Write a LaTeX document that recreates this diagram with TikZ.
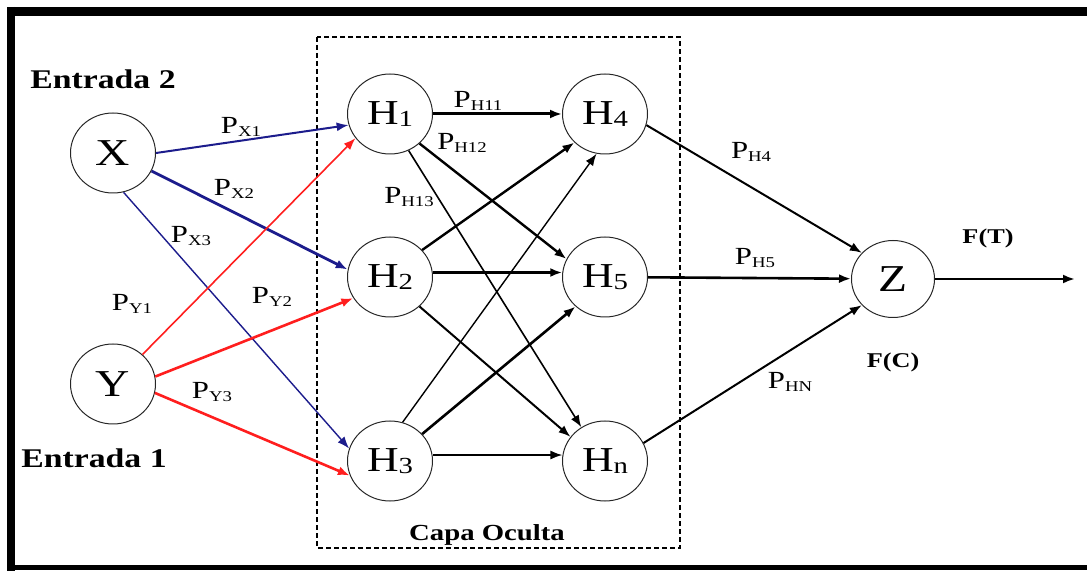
\documentclass[tikz,border=0pt]{standalone}
\usepackage{fontspec}
\setmainfont[FakeStretch=1.25]{Liberation Serif}
\usepackage{xcolor}
\usepackage{tikz}
\usetikzlibrary{arrows.meta,shapes.geometric}
\definecolor{EntradaBlue}{HTML}{1C1C8C}
\definecolor{EntradaRed}{HTML}{FF1E1E}
\newcommand{\Pw}[1]{P\raisebox{-.25ex}{\fontsize{7.5}{8}\selectfont #1}}
\newcommand{\Hsub}[1]{H\raisebox{-.1ex}{\fontsize{11.5}{12}\selectfont #1}}

\begin{document}
\begin{tikzpicture}[x=.5pt,y=-.5pt,>={Latex[length=6pt,width=4.5pt]},
  neuron/.style={draw=black!85,ellipse,line width=.5pt,minimum width=42.5pt,minimum height=40pt,inner sep=0pt,font=\fontsize{17.5}{20}\selectfont},
  peso/.style={inner sep=0pt,font=\fontsize{12.3}{14}\selectfont},
  rotulo/.style={inner sep=0pt,font=\bfseries\fontsize{13.5}{16}\selectfont},
  fino/.style={->,line width=.7pt},
  medio/.style={->,line width=1pt},
  grueso/.style={->,line width=1.4pt}]
\useasboundingbox (0,0) rectangle (1087,571);
% marco
\draw[line width=4.5pt] (7,11.5) -- (1087,11.5);
\draw[line width=4pt] (11,7) -- (11,571);
\draw[line width=2.5pt] (7,567.5) -- (1087,567.5);
\draw[dashed,line width=.9pt,dash pattern=on 2.5pt off 1.5pt] (317,37) rectangle (680,548);
\node[rotulo,font=\bfseries\fontsize{11.5}{14}\selectfont] (capa) at (487,535) {Capa Oculta};
% neuronas
\node[neuron,font=\fontsize{19}{22}\selectfont] (X) at (113,153) {X};
\node[neuron,font=\fontsize{19}{22}\selectfont] (Y) at (113,384) {Y};
\node[neuron] (H1) at (390,114) {\Hsub{1}};
\node[neuron] (H2) at (390,277) {\Hsub{2}};
\node[neuron] (H3) at (390,461) {\Hsub{3}};
\node[neuron] (H4) at (605,114) {\Hsub{4}};
\node[neuron] (H5) at (605,277) {\Hsub{5}};
\node[neuron] (Hn) at (605,461) {\Hsub{n}};
\node[neuron,minimum width=41.5pt,minimum height=38.5pt,font=\fontsize{19}{22}\selectfont] (Z) at (893,279) {Z};
\coordinate (out) at (1075,279);
\node[rotulo] (e2) at (103,79) {Entrada 2};
\node[rotulo] (e1) at (94,458) {Entrada 1};
\node[rotulo,font=\bfseries\fontsize{10.5}{12}\selectfont] (ft) at (988,238) {F(T)};
\node[rotulo,font=\bfseries\fontsize{10.5}{12}\selectfont] (fc) at (893,362) {F(C)};
% entradas
\draw[medio,EntradaBlue] (X.east) -- (H1.195);
\draw[grueso,EntradaBlue] (X.-25) -- (H2.170);
\draw[fino,EntradaBlue] (X.-75) -- (H3.163);
\draw[fino,EntradaRed,line width=.8pt] (Y.45) -- (H1.215);
\draw[grueso,EntradaRed,line width=1.3pt] (Y.10) -- (H2.210);
\draw[grueso,EntradaRed,line width=1.3pt] (Y.-12) -- (H3.200);
% capa oculta
\draw[grueso,line width=1.5pt] (H1) -- (H4);
\draw[grueso,line width=1.2pt] (H1.-45) -- (H5.155);
\draw[fino,line width=.8pt] (H1.-63) -- (Hn.125);
\draw[grueso,line width=1.2pt] (H2.40) -- (H4.223);
\draw[grueso,line width=1.5pt] (H2.6) -- (H5.174);
\draw[medio] (H2.-45) -- (Hn.145);
\draw[fino] (H3.72) -- (H4.258);
\draw[grueso,line width=1.3pt] (H3.40) -- (H5.225);
\draw[medio,line width=.9pt] (H3.8) -- (Hn.172);
% salida
\draw[medio] (H4.-15) -- (Z.140);
\draw[grueso,line width=1.3pt] (H5) -- (Z);
\draw[medio] (Hn.25) -- (Z.220);
\draw[grueso] (Z) -- (out);
% pesos
\node[peso] (px1) at (241,127) {\Pw{X1}};
\node[peso] (px2) at (234,189) {\Pw{X2}};
\node[peso] (px3) at (191,236) {\Pw{X3}};
\node[peso] (py1) at (132,304) {\Pw{Y1}};
\node[peso] (py2) at (272,297) {\Pw{Y2}};
\node[peso] (py3) at (212,392) {\Pw{Y3}};
\node[peso] (ph11) at (478,101) {\Pw{H11}};
\node[peso] (ph12) at (462,143) {\Pw{H12}};
\node[peso] (ph13) at (409,197) {\Pw{H13}};
\node[peso] (ph4) at (751,152) {\Pw{H4}};
\node[peso] (ph5) at (755,258) {\Pw{H5}};
\node[peso] (phn) at (790,382) {\Pw{HN}};
\end{tikzpicture}
\end{document}
